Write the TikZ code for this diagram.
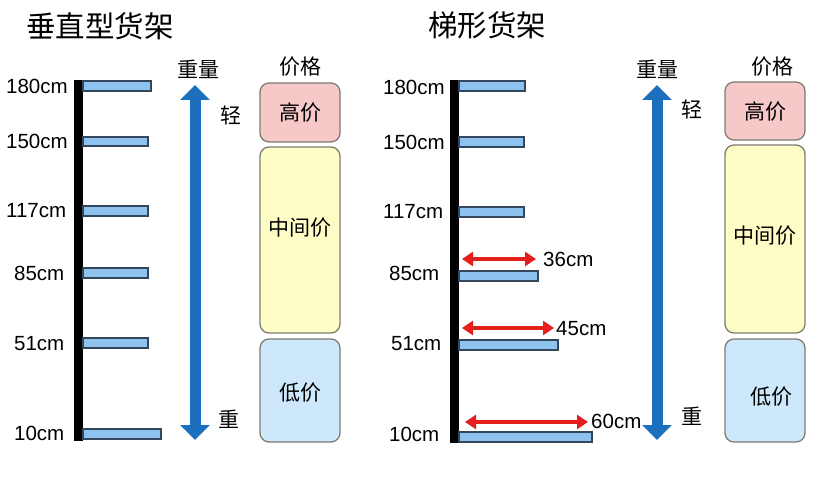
\documentclass[tikz,border=0pt]{standalone}
\usepackage{fontspec}
\setmainfont{Liberation Sans}
\newfontfamily\cjk{Noto Sans CJK SC}
\usetikzlibrary{arrows.meta}
\definecolor{shelfblue}{HTML}{8EC3EF}
\definecolor{shelfedge}{HTML}{34465A}
\definecolor{wblue}{HTML}{1C6FBD}
\definecolor{rarrow}{HTML}{E51E1E}
\definecolor{hipink}{HTML}{F7C8C8}
\definecolor{midyel}{HTML}{FFFDC6}
\definecolor{lowblue}{HTML}{CCE8FA}
\definecolor{boxedge}{HTML}{7C7C72}
\tikzset{
  shelf/.style={draw=shelfedge, fill=shelfblue, line width=1.2pt},
  post/.style={fill=black},
  cmlabel/.style={font=\fontsize{20.5}{20.5}\selectfont, anchor=west, inner sep=0pt},
  cjklabel/.style={font=\cjk\fontsize{21}{21}\selectfont, inner sep=0pt},
  titlelabel/.style={font=\cjk\fontsize{29.5}{29.5}\selectfont, inner sep=0pt},
  pricebox/.style={draw=boxedge, line width=1.3pt, rounded corners=9pt},
  weightarrow/.style={draw=wblue, line width=11pt, {Triangle[length=15pt,width=29pt]}-{Triangle[length=15pt,width=29pt]}},
  deptharrow/.style={draw=rarrow, line width=3.5pt, {Triangle[length=11pt,width=14pt]}-{Triangle[length=11pt,width=14pt]}}
}
\begin{document}
\begin{tikzpicture}[x=1pt,y=-1pt]
\useasboundingbox (0,0) rectangle (825,497);
% titles
\node[titlelabel] (t1) at (100,26) {垂直型货架};
\node[titlelabel] (t2) at (487,25) {梯形货架};

% ===== left: vertical shelf =====
\fill[post] (74,80) rectangle (83,441);
\draw[shelf] (83,81) rectangle (151,91);
\draw[shelf] (83,137) rectangle (148,146);
\draw[shelf] (83,206) rectangle (148,216);
\draw[shelf] (83,268) rectangle (148,278);
\draw[shelf] (83,338) rectangle (148,348);
\draw[shelf] (83,429) rectangle (161,439);
\node[cmlabel] (l180) at (6,86) {180cm};
\node[cmlabel] (l150) at (6,141) {150cm};
\node[cmlabel] (l117) at (6,211) {117cm};
\node[cmlabel] (l85) at (14,273) {85cm};
\node[cmlabel] (l51) at (14,344) {51cm};
\node[cmlabel] (l10) at (14,433) {10cm};

% weight arrow left
\coordinate (wa1) at (195,85);
\coordinate (wa2) at (195,440);
\draw[weightarrow] (wa1) -- (wa2);
\node[cjklabel] (wl1) at (198,69) {重量};
\node[cjklabel] (light1) at (231,115) {轻};
\node[cjklabel] (heavy1) at (229,419) {重};

% price boxes left
\node[cjklabel] (p1) at (300,67) {价格};
\draw[pricebox, fill=hipink] (260,83) rectangle (340,142);
\node[cjklabel] (hi1) at (300,113) {高价};
\draw[pricebox, fill=midyel] (260,147) rectangle (340,333);
\node[cjklabel] (mid1) at (300,228) {中间价};
\draw[pricebox, fill=lowblue] (260,339) rectangle (340,442);
\node[cjklabel] (lo1) at (300,393) {低价};

% ===== right: stepped shelf =====
\fill[post] (450,80) rectangle (459,443);
\draw[shelf] (459,81) rectangle (525,91);
\draw[shelf] (459,137) rectangle (524,147);
\draw[shelf] (459,207) rectangle (524,217);
\draw[shelf] (459,271) rectangle (538,281);
\draw[shelf] (459,340) rectangle (558,350);
\draw[shelf] (459,432) rectangle (592,442);
\node[cmlabel] (r180) at (383,87) {180cm};
\node[cmlabel] (r150) at (383,142) {150cm};
\node[cmlabel] (r117) at (383,212) {117cm};
\node[cmlabel] (r85) at (389,273) {85cm};
\node[cmlabel] (r51) at (391,344) {51cm};
\node[cmlabel] (r10) at (389,434) {10cm};

% depth arrows
\coordinate (d1a) at (462,259); \coordinate (d1b) at (536,259);
\coordinate (d2a) at (462,328); \coordinate (d2b) at (554,328);
\coordinate (d3a) at (465,422); \coordinate (d3b) at (588,422);
\draw[deptharrow] (d1a) -- (d1b);
\draw[deptharrow] (d2a) -- (d2b);
\draw[deptharrow] (d3a) -- (d3b);
\node[cmlabel] (w36) at (543,259) {36cm};
\node[cmlabel] (w45) at (556,329) {45cm};
\node[cmlabel] (w60) at (591,421) {60cm};

% weight arrow right
\coordinate (wb1) at (657,85);
\coordinate (wb2) at (657,440);
\draw[weightarrow] (wb1) -- (wb2);
\node[cjklabel] (wl2) at (657,69) {重量};
\node[cjklabel] (light2) at (692,109) {轻};
\node[cjklabel] (heavy2) at (692,416) {重};

% price boxes right
\node[cjklabel] (p2) at (772,67) {价格};
\draw[pricebox, fill=hipink] (725,82) rectangle (805,140);
\node[cjklabel] (hi2) at (765,112) {高价};
\draw[pricebox, fill=midyel] (725,145) rectangle (805,333);
\node[cjklabel] (mid2) at (765,236) {中间价};
\draw[pricebox, fill=lowblue] (725,339) rectangle (805,442);
\node[cjklabel] (lo2) at (771,397) {低价};
\end{tikzpicture}
\end{document}
